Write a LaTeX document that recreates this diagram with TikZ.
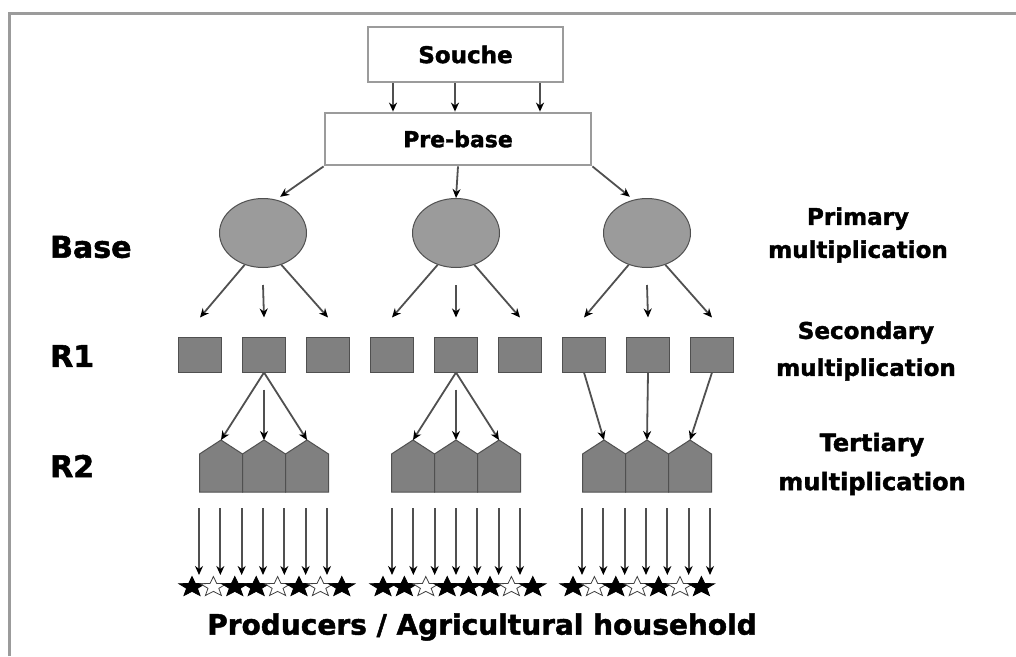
\documentclass[tikz,border=0pt]{standalone}
\usepackage{fontspec}
\setmainfont{DejaVu Sans}[BoldFeatures={FakeBold=1.6}]
\usetikzlibrary{shapes.geometric,arrows.meta,positioning,calc}
\definecolor{framegray}{RGB}{155,155,155}
\definecolor{ellgray}{RGB}{155,155,155}
\definecolor{boxgray}{RGB}{128,128,128}
\definecolor{edgegray}{RGB}{80,80,80}
\definecolor{arrgray}{RGB}{80,80,80}
\newcommand{\labfont}[2]{\fontsize{#1}{#2}\selectfont\bfseries}

\begin{document}
\begin{tikzpicture}[x=1pt,y=-1pt,
  font=\labfont{23}{33},
  level/.style={draw=framegray, line width=2.8pt, fill=white, inner sep=0},
  seed/.style={ellipse, draw=edgegray, fill=ellgray, line width=1pt, minimum width=87pt, minimum height=69pt},
  plot/.style={draw=edgegray, fill=boxgray, line width=1pt, minimum width=43pt, minimum height=35pt, inner sep=0},
  arr/.style={draw=arrgray, line width=1.8pt, -{Stealth[length=9pt,width=8pt,color=black]}},
  fullstar/.style={star, star points=5, star point ratio=2.4, minimum size=21pt, inner sep=0, xscale=1.3, fill=black, draw=black, line width=0.8pt},
  emptystar/.style={fullstar, fill=white, draw=black!75, line width=0.8pt},
  lbl/.style={align=center, inner sep=0}]
\useasboundingbox (0,0) rectangle (1016,656);
\draw[framegray, line width=3pt] (9.5,656) -- (9.5,13) -- (1016,13); % frame

% top of the scheme
\node[level, minimum width=195pt, minimum height=55pt] (souche) at (465.5,54.5) {Souche};
\node[level, minimum width=266pt, minimum height=52pt, font=\labfont{22}{30}] (prebase) at (458,139) {Pre-base};
\foreach \dx in {-72.5,-10.5,74.5}
  \draw[arr] ([xshift=\dx pt]souche.south) -- ([xshift=\dx pt]souche.south |- prebase.north);

% base
\node[seed] (e1) at (263,233) {};
\node[seed] (e2) at (456,233) {};
\node[seed] (e3) at (647,233) {};
\draw[arr] (prebase.south west) -- ([yshift=4pt]e1.62);
\draw[arr] (prebase.south) -- (e2.north);
\draw[arr] (prebase.south east) -- ([yshift=4pt]e3.118);

% R1
\foreach \i in {1,...,9}
  \node[plot] (s\i) at ({136+64*\i},354.5) {};
\foreach \j in {1,2,3} {
  \pgfmathtruncatemacro{\a}{3*\j-2}
  \pgfmathtruncatemacro{\b}{3*\j-1}
  \pgfmathtruncatemacro{\c}{3*\j}
  \draw[arr] (e\j.240) -- ([yshift=19pt]s\a.north);
  \draw[arr] ([yshift=-17pt]e\j.south) -- ([yshift=19pt]s\b.north);
  \draw[arr] (e\j.300) -- ([yshift=19pt]s\c.north);
}

% R2 houses
\foreach \j/\g in {1/264,2/456,3/647}
  \foreach \k in {1,2,3} {
    \pgfmathsetmacro{\cx}{\g+43*(\k-2)}
    \draw[edgegray, fill=boxgray, line width=1pt] (\cx-21.5,492) -- (\cx-21.5,454) -- (\cx,440) -- (\cx+21.5,454) -- (\cx+21.5,492) -- cycle;
    \coordinate (h\j-\k) at (\cx,440);
  }
\foreach \j/\m in {1/2,2/5} {
  \draw[arr] (s\m.south) -- (h\j-1);
  \draw[arr] ([yshift=-17pt]s\m.south) -- (h\j-2);
  \draw[arr] (s\m.south) -- (h\j-3);
}
\draw[arr] (s7.south) -- (h3-1);
\draw[arr] (s8.south) -- (h3-2);
\draw[arr] (s9.south) -- (h3-3);

% producers
\foreach \j/\g in {1/263,2/456,3/646}
  \foreach \k in {0,...,6} {
    \coordinate (t\j-\k) at ({\g+21.33*(\k-3)},508);
    \coordinate (b\j-\k) at ({\g+21.33*(\k-3)},575);
    \draw[arr] (t\j-\k) -- (b\j-\k);
  }
\foreach \x/\s [count=\n] in {192/fullstar,213.4/emptystar,234.8/fullstar,256.2/fullstar,277.6/emptystar,299/fullstar,320.4/emptystar,341.8/fullstar,
    383/fullstar,404.4/fullstar,425.8/emptystar,447.2/fullstar,468.6/fullstar,490/fullstar,511.4/emptystar,532.8/fullstar,
    573/fullstar,594.4/emptystar,615.8/fullstar,637.2/emptystar,658.6/fullstar,680/emptystar,701.4/fullstar}
  \node[\s] (st\n) at (\x,587) {};

% labels
\node[lbl, anchor=west, font=\labfont{30}{32}] (base) at (50,247) {Base};
\node[lbl, anchor=west, font=\labfont{30}{32}] (r1) at (50,356) {R1};
\node[lbl, anchor=west, font=\labfont{30}{32}] (r2) at (50,466) {R2};
\node[lbl] (prim) at (858,235) {Primary\\multiplication};
\node[lbl, font=\labfont{23}{37}] (sec) at (866,351) {Secondary\\multiplication};
\node[lbl, font=\labfont{24}{39}] (tert) at (872,464) {Tertiary\\multiplication};
\node[lbl, font=\labfont{28}{30}] (prod) at (482,627) {Producers / Agricultural household};
\end{tikzpicture}
\end{document}
